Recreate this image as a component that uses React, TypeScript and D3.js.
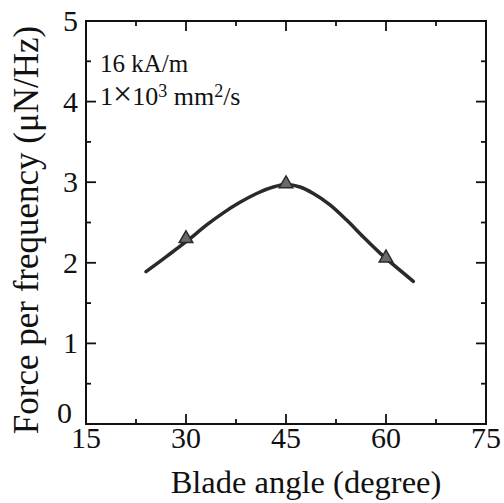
import React from "react";
import * as d3 from "d3";

const curveX = [24.0, 27.1, 30.3, 33.1, 35.6, 38.1, 40.6, 43.1, 45.1, 47.1, 49.1, 51.6, 54.1, 56.6, 59.1, 64.1];
const curveY = [1.89, 2.08, 2.28, 2.47, 2.62, 2.75, 2.86, 2.94, 2.97, 2.94, 2.86, 2.72, 2.53, 2.32, 2.12, 1.77];
const markerX = [30, 45, 60];
const markerY = [2.30, 2.98, 2.06];
const xTicks = [15, 30, 45, 60, 75];
const yTicks = [0, 1, 2, 3, 4, 5];
const xMinor = [22.5, 37.5, 52.5, 67.5];
const yMinor = [0.5, 1.5, 2.5, 3.5, 4.5];

const W = 504, H = 503;
const L = 86, R = 486, T = 21, B = 424;
const FONT = "Liberation Serif";

export default function App() {
  const x = d3.scaleLinear().domain([15, 75]).range([L, R]);
  const y = d3.scaleLinear().domain([0, 5]).range([B, T]);
  const pts: [number, number][] = curveX.map((v, i) => [x(v), y(curveY[i])]);
  const line = d3.line().curve(d3.curveCatmullRom.alpha(0.5))(pts) || "";
  const tri = d3.symbol().type(d3.symbolTriangle).size(80)() || "";
  const major = 10, minor = 5;
  return (
    <svg width={W} height={H} style={{ position: "absolute", left: 0, top: 0 }}>
      <rect width={W} height={H} fill="#fff" />
      <rect x={L} y={T} width={R - L} height={B - T} fill="none" stroke="#111" strokeWidth={2} />
      {xTicks.slice(1, -1).map((t) => (
        <g key={"xt" + t}>
          <line x1={x(t)} x2={x(t)} y1={B} y2={B - major} stroke="#111" strokeWidth={1.8} />
          <line x1={x(t)} x2={x(t)} y1={T} y2={T + major} stroke="#111" strokeWidth={1.8} />
        </g>
      ))}
      {xMinor.map((t) => (
        <g key={"xm" + t}>
          <line x1={x(t)} x2={x(t)} y1={B} y2={B - minor} stroke="#111" strokeWidth={1.8} />
          <line x1={x(t)} x2={x(t)} y1={T} y2={T + minor} stroke="#111" strokeWidth={1.8} />
        </g>
      ))}
      {yTicks.slice(1, -1).map((t) => (
        <g key={"yt" + t}>
          <line x1={L} x2={L + major} y1={y(t)} y2={y(t)} stroke="#111" strokeWidth={1.8} />
          <line x1={R} x2={R - major} y1={y(t)} y2={y(t)} stroke="#111" strokeWidth={1.8} />
        </g>
      ))}
      {yMinor.map((t) => (
        <g key={"ym" + t}>
          <line x1={L} x2={L + minor} y1={y(t)} y2={y(t)} stroke="#111" strokeWidth={1.8} />
          <line x1={R} x2={R - minor} y1={y(t)} y2={y(t)} stroke="#111" strokeWidth={1.8} />
        </g>
      ))}
      {xTicks.map((t) => (
        <text key={"xl" + t} x={x(t)} y={448} textAnchor="middle" fontFamily={FONT} fontSize={30} fill="#111">
          {t}
        </text>
      ))}
      {yTicks.map((t) => (
        <text key={"yl" + t} x={t === 0 ? 72 : 78} y={t === 0 ? y(t) - 1 : y(t) + 10} textAnchor="end" fontFamily={FONT} fontSize={30} fill="#111">
          {t}
        </text>
      ))}
      <text x={306} y={493} textAnchor="middle" fontFamily={FONT} fontSize={32.5} fill="#111">
        Blade angle (degree)
      </text>
      <text transform={`translate(38,230) rotate(-90)`} textAnchor="middle" fontFamily={FONT} fontSize={35} fill="#111">
        Force per frequency (μN/Hz)
      </text>
      <text x={100} y={72} fontFamily={FONT} fontSize={25} fill="#111">16 kA/m</text>
      <text x={100} y={105} fontFamily={FONT} fontSize={26} fill="#111">
        1<tspan fontSize={34}>×</tspan>10<tspan dy={-8} fontSize={18}>3</tspan>
        <tspan dy={8}> mm</tspan>
        <tspan dy={-8} fontSize={18}>2</tspan>
        <tspan dy={8}>/s</tspan>
      </text>
      <path d={line} fill="none" stroke="#2a2a2a" strokeWidth={3.5} strokeLinecap="round" />
      {markerX.map((v, i) => (
        <path key={"m" + v} d={tri} transform={`translate(${x(v)},${y(markerY[i])})`} fill="#6a6a6a" stroke="#2a2a2a" strokeWidth={1.5} />
      ))}
    </svg>
  );
}
